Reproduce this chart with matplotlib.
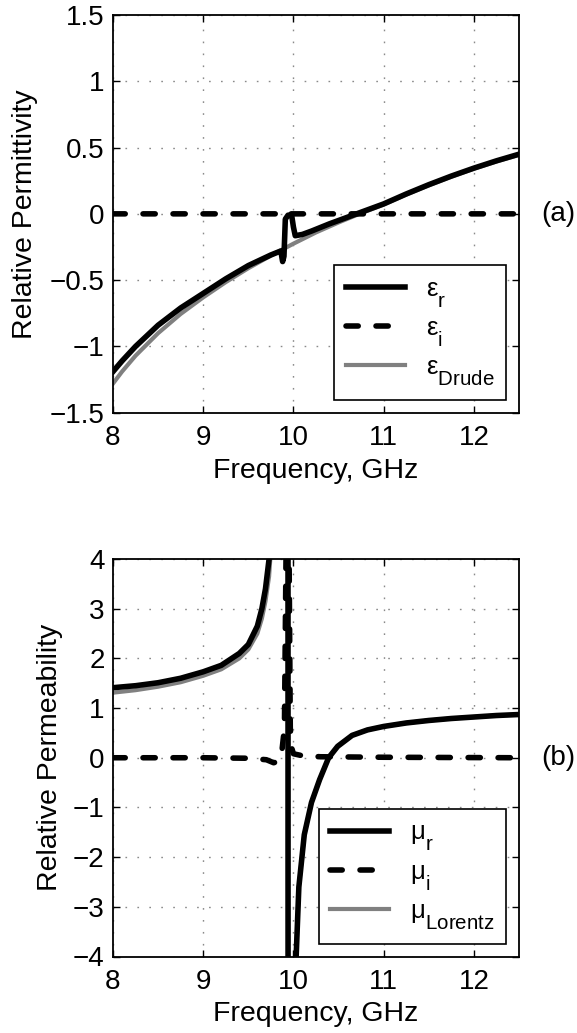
import matplotlib
matplotlib.use('Agg')
import matplotlib.pyplot as plt
import matplotlib.transforms as mtransforms
try:
    import matplotlib._mathtext as _mt
    _mt.SHRINK_FACTOR = 0.8
    _mt.FontConstantsBase.sub1 = 0.85
except Exception:
    pass

plt.rcParams['font.family'] = ['Liberation Sans', 'DejaVu Sans']
plt.rcParams['mathtext.fontset'] = 'custom'
plt.rcParams['mathtext.rm'] = 'Liberation Sans'
plt.rcParams['mathtext.it'] = 'Liberation Sans:italic'
plt.rcParams['mathtext.bf'] = 'Liberation Sans:bold'

# ---------------- data: panel (a) permittivity ----------------
eps_freq = [8.0, 8.1, 8.25, 8.5, 8.75, 9.0, 9.25, 9.5, 9.75, 9.86, 9.88, 9.895,
            9.91, 9.94, 9.98, 10.0, 10.02, 10.1, 10.2, 10.4, 10.6, 10.7, 10.8,
            11.0, 11.25, 11.5, 11.75, 12.0, 12.25, 12.5]
eps_r = [-1.19, -1.11, -1.00, -0.84, -0.71, -0.60, -0.49, -0.39, -0.31, -0.28,
         -0.36, -0.32, -0.04, -0.01, -0.01, -0.10, -0.165, -0.155, -0.13, -0.075,
         -0.025, 0.0, 0.025, 0.075, 0.15, 0.22, 0.285, 0.345, 0.40, 0.45]

eps_i_freq = [8.0, 9.88, 9.9, 9.93, 9.96, 12.5]
eps_i = [0.0, 0.0, 0.01, 0.02, 0.0, 0.0]

drude_freq = [8.0, 8.1, 8.25, 8.5, 8.75, 9.0, 9.25, 9.5, 9.75, 10.0, 10.25, 10.5,
              10.75, 11.0, 11.25, 11.5, 11.75, 12.0, 12.25, 12.5]
eps_drude = [-1.28, -1.19, -1.07, -0.90, -0.755, -0.63, -0.515, -0.41, -0.315,
             -0.225, -0.14, -0.065, 0.005, 0.07, 0.145, 0.215, 0.28, 0.34, 0.395, 0.445]

# ---------------- data: panel (b) permeability ----------------
mu_freq = [8.0, 8.25, 8.5, 8.75, 9.0, 9.2, 9.4, 9.5, 9.6, 9.65, 9.69, 9.73, 9.8,
           9.88, 9.935, 9.945, 10.0, 10.03, 10.06, 10.12, 10.2, 10.29, 10.39,
           10.49, 10.65, 10.82, 11.0, 11.25, 11.5, 11.75, 12.0, 12.25, 12.5]
mu_r = [1.41, 1.45, 1.51, 1.60, 1.73, 1.86, 2.10, 2.28, 2.65, 3.0, 3.4, 4.0, 6.0,
        15.0, 80.0, -80.0, -8.0, -4.0, -2.6, -1.55, -0.9, -0.44, 0.0,
        0.23, 0.45, 0.56, 0.63, 0.70, 0.75, 0.79, 0.82, 0.85, 0.87]

mu_lor = [1.31, 1.36, 1.43, 1.52, 1.65, 1.78, 2.00, 2.18, 2.50, 2.8, 3.15, 3.65, 5.5,
          14.0, 80.0, -80.0, -8.0, -4.0, -2.6, -1.55, -0.9, -0.44, 0.0,
          0.23, 0.45, 0.56, 0.63, 0.70, 0.75, 0.79, 0.82, 0.85, 0.87]

mu_i_freq = [8.0, 9.0, 9.5, 9.7, 9.78, 9.83, 9.87, 9.9, 9.92, 9.935, 9.95, 9.965,
             9.98, 10.0, 10.1, 10.3, 11.0, 12.5]
mu_i = [0.0, 0.0, -0.01, -0.04, -0.10, -0.08, 0.10, 0.6, 4.5, 30.0, 4.5, 0.6,
        0.2, 0.08, 0.04, 0.02, 0.01, 0.0]

xticks = [8, 9, 10, 11, 12]
yticks_a = [-1.5, -1.0, -0.5, 0.0, 0.5, 1.0, 1.5]
yticklabels_a = ['\u22121.5', '\u22121', '\u22120.5', '0', '0.5', '1', '1.5']
yticks_b = [-4, -3, -2, -1, 0, 1, 2, 3, 4]
yticklabels_b = ['\u22124', '\u22123', '\u22122', '\u22121', '0', '1', '2', '3', '4']

W, H = 577, 1033
fig = plt.figure(figsize=(W / 100, H / 100), dpi=100)

def px_axes(left, top, right, bottom):
    return fig.add_axes([left / W, 1 - bottom / H, (right - left) / W, (bottom - top) / H])

ax1 = px_axes(113, 15, 519, 412.7)
ax2 = px_axes(113, 559, 519, 956.5)

LW = 4.0
GRAY = '#808080'
TICKFS = 20
LABFS = 20.5

def style(ax, yticks, ylabels, ylim):
    ax.set_xlim(8, 12.5)
    ax.set_ylim(*ylim)
    ax.set_xticks(xticks)
    ax.set_xticklabels([str(t) for t in xticks])
    ax.set_yticks(yticks)
    ax.set_yticklabels(ylabels)
    ax.tick_params(direction='in', length=5, width=1.0, top=True, right=True,
                   labelsize=TICKFS)
    ax.tick_params(axis='x', pad=9)
    ax.tick_params(axis='y', pad=6)
    ax.grid(True, color='#8a8a8a', linewidth=1.0, linestyle=(0, (1.2, 7.4)))
    ax.set_axisbelow(True)
    for s in ax.spines.values():
        s.set_linewidth(1.3)
        s.set_color('black')

style(ax1, yticks_a, yticklabels_a, (-1.5, 1.5))
style(ax2, yticks_b, yticklabels_b, (-4, 4))

dash_kw = dict(dashes=(2.2, 3.2), dash_capstyle='round')

# panel (a)
g1, = ax1.plot(drude_freq, eps_drude, color=GRAY, lw=3.0)
d1, = ax1.plot(eps_i_freq, eps_i, color='black', lw=LW, **dash_kw)
b1, = ax1.plot(eps_freq, eps_r, color='black', lw=LW)

# panel (b)
g2, = ax2.plot(mu_freq, mu_lor, color=GRAY, lw=3.0)
d2, = ax2.plot(mu_i_freq, mu_i, color='black', lw=LW, **dash_kw)
b2, = ax2.plot(mu_freq, mu_r, color='black', lw=LW)

ax1.set_xlabel('Frequency, GHz', fontsize=LABFS)
ax2.set_xlabel('Frequency, GHz', fontsize=LABFS)
ax1.set_ylabel('Relative Permittivity', fontsize=LABFS)
ax2.set_ylabel('Relative Permeability', fontsize=LABFS)
ax1.xaxis.set_label_coords(0.5, -0.113)
ax2.xaxis.set_label_coords(0.5, -0.113)
ax1.yaxis.set_label_coords(-0.185, 0.5)
ax2.yaxis.set_label_coords(-0.122, 0.5)

leg_kw = dict(loc='lower right', fontsize=18.5, frameon=True, fancybox=False,
              framealpha=1.0, edgecolor='black', borderaxespad=0.5,
              handlelength=2.3, handletextpad=0.8, labelspacing=0.25,
              borderpad=0.45)
l1 = ax1.legend([b1, d1, g1], ['\u03b5$_\\mathregular{r}$', '\u03b5$_\\mathregular{i}$',
                              '\u03b5$_\\mathregular{Drude}$'], **leg_kw)
l2 = ax2.legend([b2, d2, g2], ['\u03bc$_\\mathregular{r}$', '\u03bc$_\\mathregular{i}$',
                              '\u03bc$_\\mathregular{Lorentz}$'], **leg_kw)
for l in (l1, l2):
    l.get_frame().set_linewidth(1.2)

for ax, tag in ((ax1, '(a)'), (ax2, '(b)')):
    tr = mtransforms.blended_transform_factory(ax.transAxes, ax.transData)
    ax.text(1.054, 0.0, tag, transform=tr, ha='left', va='center', fontsize=TICKFS,
            clip_on=False)

fig.savefig('out.png', dpi=100)
